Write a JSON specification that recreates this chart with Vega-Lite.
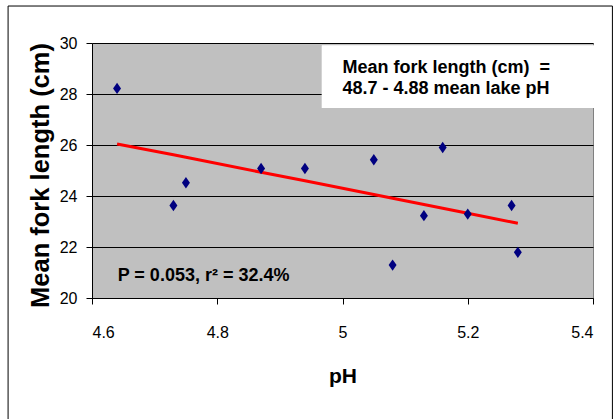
{
  "$schema": "https://vega.github.io/schema/vega-lite/v6.json",
  "width": 501,
  "height": 255,
  "autosize": {"type": "none"},
  "padding": {"left": 92, "top": 43, "right": 20, "bottom": 121},
  "background": "white",
  "config": {
    "view": {"fill": "#C0C0C0", "stroke": "#808080", "strokeWidth": 1},
    "axis": {
      "domainColor": "black",
      "tickColor": "black",
      "labelColor": "black",
      "titleColor": "black",
      "labelFont": "Liberation Sans Narrow, Arial Narrow, Liberation Sans",
      "labelFontSize": 16,
      "tickSize": 6
    }
  },
  "datasets": {
    "points": [
      {"pH": 4.64, "length": 28.22},
      {"pH": 4.73, "length": 23.63},
      {"pH": 4.75, "length": 24.52},
      {"pH": 4.87, "length": 25.08},
      {"pH": 4.94, "length": 25.08},
      {"pH": 5.05, "length": 25.42},
      {"pH": 5.08, "length": 21.29},
      {"pH": 5.13, "length": 23.23},
      {"pH": 5.16, "length": 25.9},
      {"pH": 5.2, "length": 23.29},
      {"pH": 5.27, "length": 23.63},
      {"pH": 5.28, "length": 21.79}
    ],
    "fit": [
      {"pH": 4.64, "fitted": 26.04},
      {"pH": 4.73, "fitted": 25.62},
      {"pH": 4.75, "fitted": 25.52},
      {"pH": 4.87, "fitted": 24.93},
      {"pH": 4.94, "fitted": 24.6},
      {"pH": 5.05, "fitted": 24.06},
      {"pH": 5.08, "fitted": 23.91},
      {"pH": 5.13, "fitted": 23.67},
      {"pH": 5.16, "fitted": 23.52},
      {"pH": 5.2, "fitted": 23.32},
      {"pH": 5.27, "fitted": 22.98},
      {"pH": 5.28, "fitted": 22.93}
    ],
    "notes": [
      {"pH": 4.641, "length": 20.65, "label": "P = 0.053, r² = 32.4%"}
    ],
    "equation": [
      {"pH": 5.0, "length": 28.82, "label": "Mean fork length (cm)\u00a0 =", "x0": 4.967, "x1": 5.41, "y0": 27.45, "y1": 29.9},
      {"pH": 5.0, "length": 27.99, "label": "48.7 - 4.88 mean lake pH", "x0": 4.967, "x1": 5.41, "y0": 27.45, "y1": 29.9}
    ]
  },
  "layer": [
    {
      "data": {"values": [{"x0": 4.466, "x1": 5.431, "y0": 31.45, "y1": 15.2}]},
      "mark": {"type": "rect", "fill": null, "stroke": "black", "strokeWidth": 1, "clip": false},
      "encoding": {
        "x": {"field": "x0", "type": "quantitative", "scale": {"domain": [4.6, 5.4], "zero": false, "nice": false}},
        "x2": {"field": "x1"},
        "y": {"field": "y0", "type": "quantitative", "scale": {"domain": [20, 30], "zero": false, "nice": false}},
        "y2": {"field": "y1"}
      }
    },
    {
      "data": {"name": "points"},
      "mark": {"type": "point", "opacity": 0},
      "encoding": {
        "x": {
          "field": "pH", "type": "quantitative",
          "scale": {"domain": [4.6, 5.4], "zero": false, "nice": false},
          "axis": {
            "values": [4.6, 4.8, 5, 5.2, 5.4],
            "format": ".1~f",
            "grid": false,
            "labelPadding": 20,
            "title": "pH",
            "titleFont": "Liberation Sans Narrow, Arial Narrow, Liberation Sans",
            "titleFontSize": 21,
            "titleFontWeight": "bold",
            "titlePadding": 25
          }
        },
        "y": {
          "field": "length", "type": "quantitative",
          "scale": {"domain": [20, 30], "zero": false, "nice": false},
          "axis": {
            "values": [20, 22, 24, 26, 28, 30],
            "grid": true,
            "gridColor": "black",
            "gridOpacity": 1,
            "gridWidth": 1,
            "labelPadding": 9,
            "title": "Mean fork length (cm)",
            "titleFont": "Liberation Sans, Arial",
            "titleFontSize": 25.5,
            "titleFontWeight": "bold",
            "titlePadding": 6,
            "titleY": 132
          }
        }
      }
    },
    {
      "data": {"name": "equation"},
      "mark": {"type": "rect", "fill": "white", "stroke": null, "clip": false},
      "encoding": {
        "x": {"field": "x0", "type": "quantitative"},
        "x2": {"field": "x1"},
        "y": {"field": "y0", "type": "quantitative"},
        "y2": {"field": "y1"}
      }
    },
    {
      "data": {"name": "fit"},
      "mark": {"type": "line", "color": "#FF0000", "strokeWidth": 3},
      "encoding": {
        "x": {"field": "pH", "type": "quantitative"},
        "y": {"field": "fitted", "type": "quantitative"}
      }
    },
    {
      "data": {"name": "points"},
      "mark": {"type": "point", "shape": "M0,-1L0.7,0L0,1L-0.7,0Z", "filled": true, "color": "#000080", "opacity": 1, "size": 130},
      "encoding": {
        "x": {"field": "pH", "type": "quantitative"},
        "y": {"field": "length", "type": "quantitative"}
      }
    },
    {
      "data": {"name": "notes"},
      "mark": {"type": "text", "align": "left", "baseline": "alphabetic", "font": "Liberation Sans, Arial", "fontSize": 18, "fontWeight": "bold", "color": "black"},
      "encoding": {
        "x": {"field": "pH", "type": "quantitative"},
        "y": {"field": "length", "type": "quantitative"},
        "text": {"field": "label"}
      }
    },
    {
      "data": {"name": "equation"},
      "mark": {"type": "text", "align": "left", "baseline": "alphabetic", "font": "Liberation Sans, Arial", "fontSize": 18, "fontWeight": "bold", "color": "black"},
      "encoding": {
        "x": {"field": "pH", "type": "quantitative"},
        "y": {"field": "length", "type": "quantitative"},
        "text": {"field": "label"}
      }
    }
  ]
}
